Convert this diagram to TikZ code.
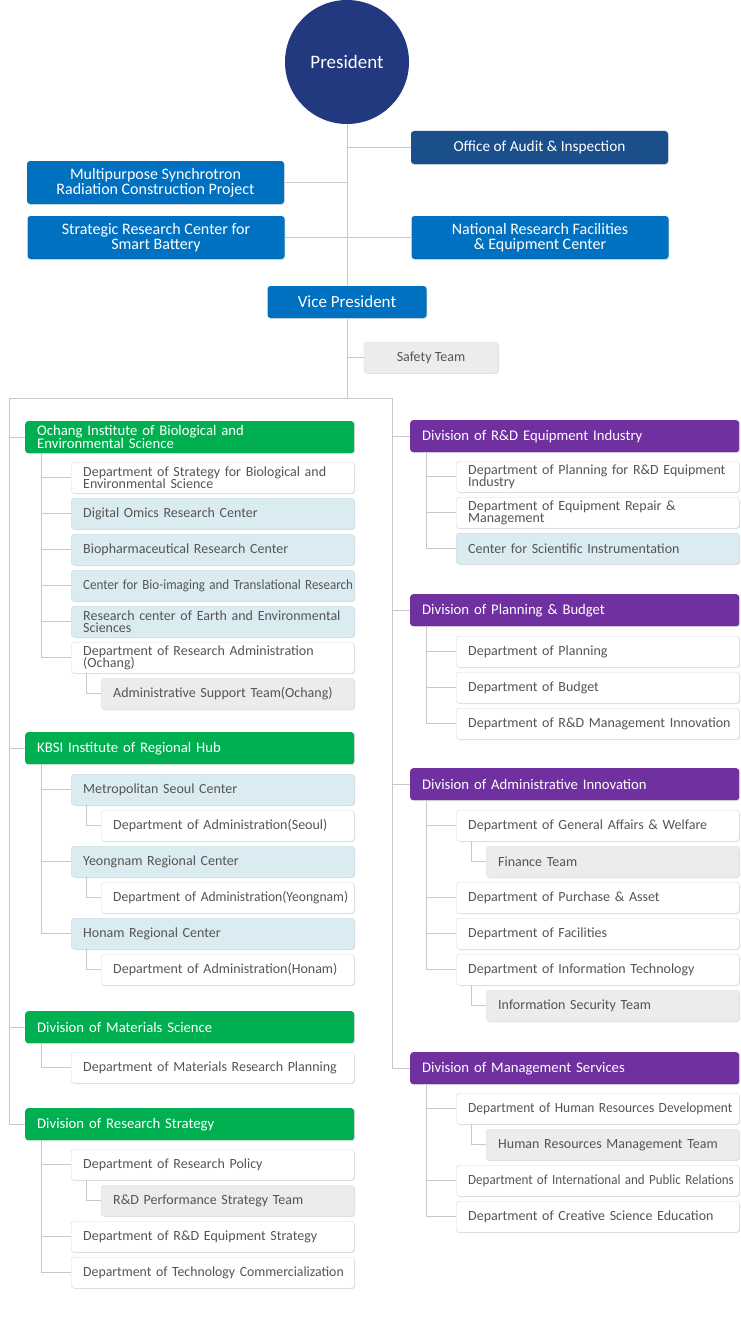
\documentclass[tikz,border=0pt]{standalone}
\usepackage{fontspec}
\setmainfont{Carlito}
\usetikzlibrary{calc,shadows}
\definecolor{presblue}{HTML}{22397F}
\definecolor{auditblue}{HTML}{1B4F8B}
\definecolor{unitblue}{HTML}{0070C0}
\definecolor{instgreen}{HTML}{00B050}
\definecolor{divpurple}{HTML}{7030A0}
\definecolor{centerblue}{HTML}{DAECF2}
\definecolor{teamgrey}{HTML}{ECECEC}
\definecolor{linegrey}{HTML}{C8C8C8}
\definecolor{textgrey}{HTML}{555555}
\tikzset{
  link/.style={draw=linegrey, line width=1pt},
  soft shadow/.style={drop shadow={shadow xshift=0.8pt, shadow yshift=-0.8pt, fill=black, opacity=0.12}},
  topbox/.style={fill=unitblue, text=white, rounded corners=3pt, soft shadow,
     minimum width=257pt, minimum height=43pt, inner sep=0pt, align=center,
     font=\fontsize{16}{15}\selectfont},
  unit/.style={rounded corners=3pt, anchor=north west, soft shadow, inner xsep=12pt,
     inner ysep=0pt, minimum height=31pt, align=left,
     font=\fontsize{14}{12.5}\selectfont},
  divhead/.style={unit, text=white, minimum height=32pt, text width=305pt,
     font=\fontsize{14.7}{13}\selectfont},
  greenhead/.style={divhead, fill=instgreen},
  purplehead/.style={divhead, fill=divpurple},
  dept/.style={unit, draw=black!14, fill=white, text=textgrey, text width=259pt},
  subdept/.style={dept, text width=229pt},
  rcenter/.style={dept, draw=centerblue!92!black, fill=centerblue},
  team/.style={unit, draw=black!12, fill=teamgrey, text=textgrey, text width=229pt}
}
\def\OrgBox#1#2#3#4#5{\node[#1] (#2) at (#3,#4) {#5};}
\def\OrgLink#1#2{\draw[link] ($(#1.south west)+(16,0)$) |- (#2.west);}
\def\SubLink#1#2{\draw[link] ($(#1.south west)+(15,0)$) |- (#2.west);}
\def\squeeze#1#2{\scalebox{#1}[1]{#2}}

\begin{document}
\begin{tikzpicture}[x=1pt,y=-1pt]
\useasboundingbox (0,0) rectangle (740,1327);

% top of the chart
\node[circle, fill=presblue, text=white, minimum size=124pt, inner sep=0pt,
  font=\fontsize{19}{19}\selectfont] (pres) at (347,62) {President};
\node[topbox, fill=auditblue, minimum height=33pt, font=\fontsize{15.3}{15}\selectfont] (audit) at (539.5,147.5) {Office of Audit \& Inspection};
\node[topbox] (synchro) at (155.5,182.5) {Multipurpose Synchrotron\\Radiation Construction Project};
\node[topbox] (battery) at (156,237.5) {Strategic Research Center for\\Smart Battery};
\node[topbox] (nfec) at (540,237.5) {National Research Facilities\\\& Equipment Center};
\node[topbox, minimum width=159pt, minimum height=32pt, font=\fontsize{17}{17}\selectfont] (vp) at (347,302) {Vice President};
\node[topbox, fill=teamgrey, draw=black!12, text=textgrey, minimum width=134pt, minimum height=31pt,
  font=\fontsize{14}{14}\selectfont] (safety) at (431,357.5) {Safety Team};
\coordinate (hub) at (347,398);
\coordinate (lbus) at (9,398);
\coordinate (rbus) at (392,398);

\draw[link] (pres.south) -- (vp.north);
\draw[link] (vp.south) -- (hub);
\draw[link] (audit.west) -- (audit.west -| pres.south);
\draw[link] (synchro.east) -- (synchro.east -| pres.south);
\draw[link] (battery.east) -- (nfec.west);
\draw[link] (safety.west) -- (safety.west -| vp.south);
\draw[link] (lbus) -- (rbus);

% left column
\OrgBox{greenhead}{ochang}{25}{421}{Ochang Institute of Biological and\\Environmental Science}
\OrgBox{dept}{bioplan}{71}{462}{Department of Strategy for Biological and\\Environmental Science}
\OrgBox{rcenter}{omics}{71}{498}{Digital Omics Research Center}
\OrgBox{rcenter}{biopharm}{71}{534}{Biopharmaceutical Research Center}
\OrgBox{rcenter}{bioimg}{71}{570}{\squeeze{0.93}{Center for Bio-imaging and Translational Research}}
\OrgBox{rcenter}{earth}{71}{606}{Research center of Earth and Environmental\\Sciences}
\OrgBox{dept}{ochadmin}{71}{642}{Department of Research Administration\\(Ochang)}
\OrgBox{team}{ochsupport}{101}{678}{Administrative Support Team(Ochang)}

\OrgBox{greenhead}{kbsi}{25}{732}{KBSI Institute of Regional Hub}
\OrgBox{rcenter}{seoul}{71}{774}{Metropolitan Seoul Center}
\OrgBox{subdept}{seouladmin}{101}{810}{Department of Administration(Seoul)}
\OrgBox{rcenter}{yeong}{71}{846}{Yeongnam Regional Center}
\OrgBox{subdept}{yeongadmin}{101}{882}{\squeeze{0.97}{Department of Administration(Yeongnam)}}
\OrgBox{rcenter}{honam}{71}{918}{Honam Regional Center}
\OrgBox{subdept}{honamadmin}{101}{954}{Department of Administration(Honam)}

\OrgBox{greenhead}{matsci}{25}{1011}{Division of Materials Science}
\OrgBox{dept}{matplan}{71}{1052}{Department of Materials Research Planning}

\OrgBox{greenhead}{resstrat}{25}{1108}{Division of Research Strategy}
\OrgBox{dept}{respolicy}{71}{1149}{Department of Research Policy}
\OrgBox{team}{perfteam}{101}{1185}{R\&D Performance Strategy Team}
\OrgBox{dept}{eqstrat}{71}{1221}{Department of R\&D Equipment Strategy}
\OrgBox{dept}{techcomm}{71}{1257}{\squeeze{0.985}{Department of Technology Commercialization}}

% right column
\OrgBox{purplehead}{rdeq}{410}{420}{Division of R\&D Equipment Industry}
\OrgBox{dept}{eqplan}{456}{461}{Department of Planning for R\&D Equipment\\Industry}
\OrgBox{dept}{eqrepair}{456}{497}{Department of Equipment Repair \&\\Management}
\OrgBox{rcenter}{sciinst}{456}{533}{Center for Scientific Instrumentation}

\OrgBox{purplehead}{planbud}{410}{594}{Division of Planning \& Budget}
\OrgBox{dept}{planning}{456}{636}{Department of Planning}
\OrgBox{dept}{budget}{456}{672}{Department of Budget}
\OrgBox{dept}{mgmtinno}{456}{708}{\squeeze{1}{Department of R\&D Management Innovation}}

\OrgBox{purplehead}{adminno}{410}{768}{Division of Administrative Innovation}
\OrgBox{dept}{affairs}{456}{810}{Department of General Affairs \& Welfare}
\OrgBox{team}{finance}{486}{846}{Finance Team}
\OrgBox{dept}{purchase}{456}{882}{Department of Purchase \& Asset}
\OrgBox{dept}{facilities}{456}{918}{Department of Facilities}
\OrgBox{dept}{infotech}{456}{954}{Department of Information Technology}
\OrgBox{team}{infosec}{486}{990}{Information Security Team}

\OrgBox{purplehead}{mgmtserv}{410}{1052}{Division of Management Services}
\OrgBox{dept}{hrdev}{456}{1093}{\squeeze{0.96}{Department of Human Resources Development}}
\OrgBox{team}{hrteam}{486}{1129}{Human Resources Management Team}
\OrgBox{dept}{intlpr}{456}{1165}{\squeeze{0.93}{Department of International and Public Relations}}
\OrgBox{dept}{creative}{456}{1201}{Department of Creative Science Education}

% connectors
\foreach \d in {ochang,kbsi,matsci,resstrat}
  {\draw[link] (lbus) |- (\d.west);}
\foreach \d in {rdeq,planbud,adminno,mgmtserv}
  {\draw[link] (rbus) |- (\d.west);}
\foreach \c in {bioplan,omics,biopharm,bioimg,earth,ochadmin}
  {\OrgLink{ochang}{\c}}
\foreach \c in {seoul,yeong,honam}
  {\OrgLink{kbsi}{\c}}
\OrgLink{matsci}{matplan}
\foreach \c in {respolicy,eqstrat,techcomm}
  {\OrgLink{resstrat}{\c}}
\foreach \c in {eqplan,eqrepair,sciinst}
  {\OrgLink{rdeq}{\c}}
\foreach \c in {planning,budget,mgmtinno}
  {\OrgLink{planbud}{\c}}
\foreach \c in {affairs,purchase,facilities,infotech}
  {\OrgLink{adminno}{\c}}
\foreach \c in {hrdev,intlpr,creative}
  {\OrgLink{mgmtserv}{\c}}
\SubLink{ochadmin}{ochsupport}
\SubLink{seoul}{seouladmin}
\SubLink{yeong}{yeongadmin}
\SubLink{honam}{honamadmin}
\SubLink{respolicy}{perfteam}
\SubLink{affairs}{finance}
\SubLink{infotech}{infosec}
\SubLink{hrdev}{hrteam}
\end{tikzpicture}
\end{document}
